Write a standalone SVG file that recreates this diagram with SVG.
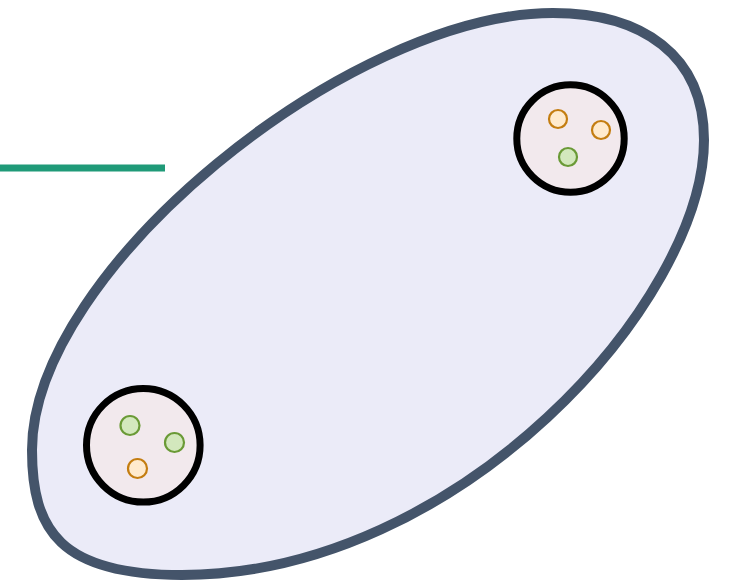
<svg xmlns="http://www.w3.org/2000/svg" width="730" height="586" viewBox="0 0 730 586">
  <style>
    .cell { fill: #f2e9ed; stroke: #000000; stroke-width: 7; }
    .orange { fill: #ffeacd; stroke: #c47d10; stroke-width: 2.2; }
    .green { fill: #d3e8bd; stroke: #6a9a36; stroke-width: 2.2; }
    .conn { stroke: #1f9a78; stroke-width: 7; fill: none; }
  </style>
  <rect width="730" height="586" fill="#ffffff"/>
  <g id="connectors">
    <line class="conn" x1="0" y1="168" x2="165" y2="168"/>
  </g>
  <g id="region">
    <path d="M553,13 C642,13 704,55 704,140 C704,300 460,575 182,575 C60,575 32,530 32,450 C32,270 350,13 553,13 Z" fill="#ebebf8" stroke="#44546a" stroke-width="10"/>
  </g>
  <g id="node-top-right">
    <circle class="cell" cx="570.5" cy="138.5" r="53.7"/>
    <circle class="orange" cx="558" cy="119" r="9"/>
    <circle class="orange" cx="601" cy="130" r="9"/>
    <circle class="green" cx="568" cy="157" r="9"/>
  </g>
  <g id="node-bottom-left">
    <circle class="cell" cx="143.3" cy="445.3" r="56.8"/>
    <circle class="green" cx="130" cy="425.5" r="9.5"/>
    <circle class="green" cx="174.5" cy="442.5" r="9.5"/>
    <circle class="orange" cx="137.5" cy="468.5" r="9.5"/>
  </g>
</svg>
